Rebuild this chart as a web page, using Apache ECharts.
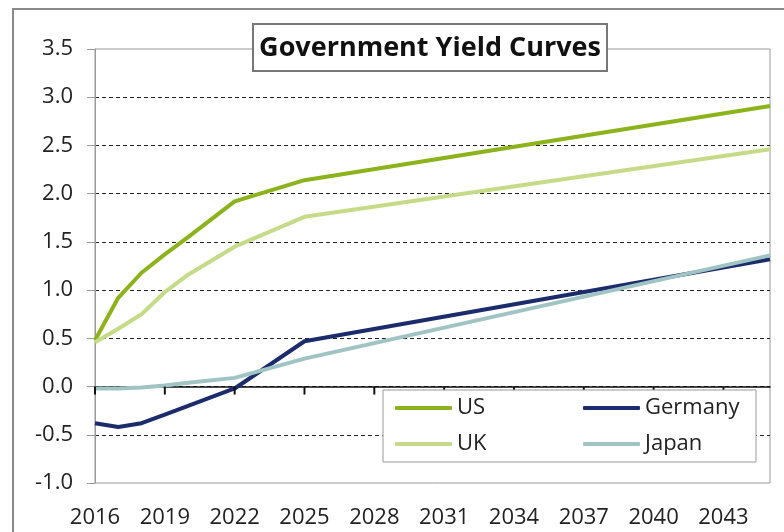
<!DOCTYPE html>
<html>
<head>
<meta charset="utf-8">
<script src="https://cdn.jsdelivr.net/npm/echarts@6/dist/echarts.min.js"></script>
<style>
html, body { margin: 0; padding: 0; background: #fff; }
#container { width: 784px; height: 532px; }
</style>
</head>
<body>
<div id="container"></div>
<script>
// values
var years   = [2016, 2017, 2018, 2019, 2020, 2022, 2025, 2045];
var us      = [0.48, 0.92, 1.18, 1.37, 1.55, 1.92, 2.14, 2.91];
var uk      = [0.46, 0.60, 0.75, 0.98, 1.16, 1.45, 1.76, 2.46];
var germany = [-0.38, -0.42, -0.38, -0.29, -0.20, -0.02, 0.47, 1.32];
var japan   = [-0.02, -0.02, -0.01, 0.01, 0.04, 0.09, 0.29, 1.36];
var tickYears = [2016, 2019, 2022, 2025, 2028, 2031, 2034, 2037, 2040, 2043];

var font = 'Open Sans';

function pairs(vals) {
    return years.map(function (y, i) { return [y, vals[i]]; });
}

var dom = document.getElementById('container');
var myChart = echarts.init(dom, null, { renderer: 'canvas' });

function line(name, vals, color, width) {
    return {
        name: name,
        type: 'line',
        xAxisIndex: 0,
        yAxisIndex: 0,
        data: pairs(vals),
        symbol: 'none',
        showSymbol: false,
        color: color,
        lineStyle: { color: color, width: width },
        z: 3
    };
}

// little tick marks hanging under the zero line
var zeroTicks = {
    name: 'zeroTicks',
    type: 'custom',
    xAxisIndex: 0,
    yAxisIndex: 0,
    silent: true,
    clip: false,
    z: 6,
    data: tickYears.map(function (y) { return [y, 0]; }),
    renderItem: function (params, api) {
        var p = api.coord([api.value(0), api.value(1)]);
        return {
            type: 'rect',
            shape: { x: p[0] - 1, y: p[1], width: 2, height: 8 },
            style: { fill: '#111' }
        };
    }
};

var option = {
    animation: false,
    backgroundColor: '#fff',
    grid: {
        left: 95, right: 14, top: 49, bottom: 49,
        show: true,
        borderColor: '#999',
        borderWidth: 1
    },
    xAxis: [
        {
            type: 'value',
            min: 2016,
            max: 2045,
            position: 'bottom',
            axisLine: { show: false, onZero: false },
            axisTick: { show: false },
            splitLine: { show: false },
            axisLabel: {
                customValues: tickYears,
                formatter: function (v) { return String(v); },
                fontFamily: font,
                fontSize: 22,
                color: '#222',
                margin: 24
            }
        },
        {
            // the solid zero line
            type: 'value',
            min: 2016,
            max: 2045,
            interval: 3,
            position: 'bottom',
            axisLine: { show: true, onZero: true, onZeroAxisIndex: 0, lineStyle: { color: '#111', width: 1.5 } },
            axisTick: { show: false },
            axisLabel: { show: false },
            splitLine: { show: false }
        }
    ],
    yAxis: {
        type: 'value',
        min: -1,
        max: 3.5,
        interval: 0.5,
        axisLine: { show: true, onZero: false, lineStyle: { color: '#999' } },
        axisTick: { show: true, length: 8, lineStyle: { color: '#999' } },
        axisLabel: {
            formatter: function (v) { return v.toFixed(1); },
            fontFamily: font,
            fontSize: 22,
            color: '#222',
            margin: 22
        },
        splitLine: {
            show: true,
            showMinLine: false,
            showMaxLine: false,
            lineStyle: { color: '#222', width: 1, type: [4, 3] }
        }
    },
    legend: [
        {
            data: ['US', 'UK'],
            orient: 'vertical',
            left: 390,
            top: 392,
            itemWidth: 57,
            itemHeight: 4,
            itemGap: 14,
            icon: 'roundRect',
            selectedMode: false,
            z: 10,
            textStyle: { fontFamily: font, fontSize: 22, color: '#222' }
        },
        {
            data: ['Germany', 'Japan'],
            orient: 'vertical',
            left: 578,
            top: 392,
            itemWidth: 57,
            itemHeight: 4,
            itemGap: 14,
            icon: 'roundRect',
            selectedMode: false,
            z: 10,
            textStyle: { fontFamily: font, fontSize: 22, color: '#222' }
        }
    ],
    graphic: [
        {
            type: 'rect',
            z: 1,
            shape: { x: 13, y: 9, width: 800, height: 600 },
            style: { fill: 'none', stroke: '#8a8a8a', lineWidth: 2 }
        },
        {
            type: 'rect',
            z: 8,
            shape: { x: 253, y: 24, width: 354, height: 47 },
            style: { fill: '#fff', stroke: '#777', lineWidth: 2 }
        },
        {
            type: 'text',
            z: 9,
            x: 430,
            y: 48,
            style: {
                text: 'Government Yield Curves',
                fontFamily: font,
                fontWeight: 'bold',
                fontSize: 27,
                fill: '#111',
                textAlign: 'center',
                textVerticalAlign: 'middle'
            }
        },
        {
            type: 'rect',
            z: 8,
            shape: { x: 383, y: 390, width: 373, height: 72 },
            style: { fill: '#fff', stroke: '#999', lineWidth: 1 }
        }
    ],
    series: [
        line('US', us, '#8cb31b', 4),
        line('Germany', germany, '#1c2b6b', 4),
        line('UK', uk, '#c6db88', 4),
        line('Japan', japan, '#a0c3c3', 4),
        zeroTicks
    ]
};

myChart.setOption(option);
</script>
</body>
</html>
